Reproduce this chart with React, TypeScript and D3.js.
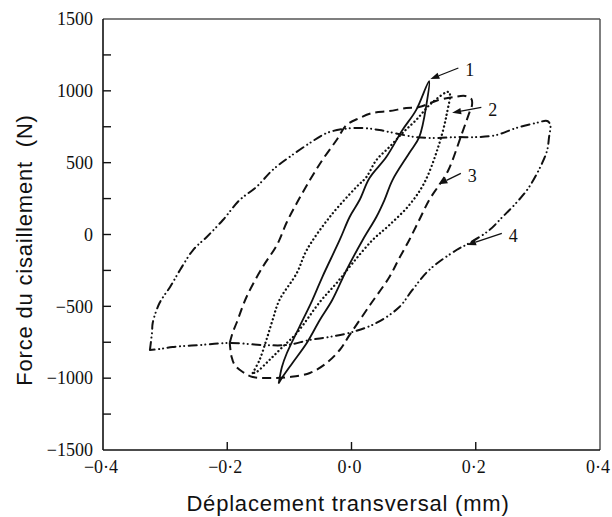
import React from 'react';
import * as d3 from 'd3';

// ---- axis ticks ----
const xTicks = [-0.4, -0.2, 0, 0.2, 0.4];
const xTickLabels = ['\u22120\u00b74', '\u22120\u00b72', '0\u00b70', '0\u00b72', '0\u00b74'];
const xInnerTicks = [-0.2, 0, 0.2];
const yTicks = [-1500, -1000, -500, 0, 500, 1000, 1500];
const yTickLabels = ['\u22121500', '\u22121000', '\u2212500', '0', '500', '1000', '1500'];
const yInnerTicks = [-1250, -1000, -750, -500, -250, 0, 250, 500, 750, 1000, 1250];

// ---- series 1 (solid) ----
const s1X = [-0.117, -0.112, -0.104, -0.084, -0.063, -0.047, -0.019, -0.003, 0.013, 0.029, 0.056, 0.082, 0.104, 0.125,
  0.121, 0.109, 0.093, 0.066, 0.053, 0.040, 0.018, -0.008, -0.031, -0.051, -0.072, -0.095, -0.111, -0.117];
const s1Y = [-1033, -922, -825, -644, -456, -296, -38, 122, 240, 393, 539, 727, 866, 1068,
  915, 678, 567, 379, 240, 122, -38, -247, -456, -595, -755, -894, -992, -1033];

// ---- series 2 (dotted) ----
const s2X = [-0.159, -0.148, -0.137, -0.127, -0.116, -0.088, -0.072, -0.035, 0.008, 0.024, 0.040, 0.061, 0.082, 0.104, 0.129, 0.157,
  0.153, 0.138, 0.117, 0.093, 0.061, 0.034, 0.002, -0.024, -0.051, -0.088, -0.111, -0.132, -0.153, -0.159];
const s2Y = [-964, -873, -734, -595, -456, -268, -108, 122, 331, 400, 518, 609, 706, 797, 915, 992,
  832, 588, 358, 205, 66, -38, -198, -338, -470, -685, -783, -873, -957, -964];

// ---- series 3 (dashed) ----
const s3X = [-0.196, -0.191, -0.185, -0.169, -0.143, -0.120, -0.104, -0.088, -0.067, -0.047, -0.024, -0.008, 0.013, 0.034, 0.061, 0.088, 0.109, 0.140, 0.165, 0.183, 0.193,
  0.194, 0.190, 0.178, 0.156, 0.141, 0.125, 0.109, 0.093, 0.077, 0.061, 0.032, -0.003, -0.019, -0.040, -0.067, -0.100, -0.127, -0.159, -0.175, -0.188, -0.193, -0.196];
const s3Y = [-755, -679, -616, -435, -226, -73, 87, 219, 379, 518, 658, 762, 811, 846, 859, 880, 887, 936, 957, 964, 943,
  901, 852, 706, 449, 344, 240, 101, -38, -164, -296, -477, -699, -804, -894, -964, -992, -999, -992, -957, -908, -852, -755];

// ---- series 4 (dash-dot-dot) ----
const s4X = [-0.3245, -0.321, -0.320, -0.309, -0.292, -0.276, -0.255, -0.233, -0.207, -0.180, -0.153, -0.127, -0.100, -0.067, -0.040, -0.014, 0.018, 0.045, 0.069, 0.103, 0.137, 0.169, 0.201, 0.233, 0.265, 0.297, 0.315,
  0.320, 0.318, 0.315, 0.307, 0.286, 0.265, 0.243, 0.222, 0.190, 0.169, 0.125, 0.098, 0.077, 0.040, 0.002, -0.035, -0.067, -0.104, -0.143, -0.196, -0.244, -0.288, -0.309, -0.3245];
const s4Y = [-804, -678, -616, -477, -365, -247, -108, -17, 101, 240, 331, 449, 539, 637, 706, 734, 741, 727, 706, 678, 672, 678, 678, 692, 741, 776, 790,
  762, 678, 588, 498, 331, 219, 122, 31, -59, -108, -247, -386, -505, -616, -678, -713, -734, -769, -769, -755, -769, -783, -797, -804];

// ---- curve labels & arrows ----
const labelNames = ['1', '2', '3', '4'];
const arrowTipX = [0.127, 0.162, 0.140, 0.186];
const arrowTipY = [1082, 847, 349, -73];
const arrowTailX = [0.172, 0.209, 0.176, 0.242];
const arrowTailY = [1159, 885, 426, 8];

const W = 612;
const H = 517;

export default function App() {
  const x = d3.scaleLinear().domain([-0.4, 0.4]).range([103, 600]);
  const y = d3.scaleLinear().domain([-1500, 1500]).range([450, 19]);

  const line = d3
    .line<[number, number]>()
    .x((d) => x(d[0]))
    .y((d) => y(d[1]))
    .curve(d3.curveCatmullRom.alpha(0.5));

  const series = [
    { xs: s1X, ys: s1Y, dash: 'none', cap: 'round' as const, w: 1.8 },
    { xs: s2X, ys: s2Y, dash: '0.1,4', cap: 'round' as const, w: 2.3 },
    { xs: s3X, ys: s3Y, dash: '9,5', cap: 'butt' as const, w: 2 },
    { xs: s4X, ys: s4Y, dash: '8,4.5,0.1,4,0.1,4.5', cap: 'round' as const, w: 2 },
  ];

  const serif = '"Liberation Serif", "Times New Roman", serif';
  const sans = '"Liberation Sans", Arial, sans-serif';
  const x0 = x(-0.4), x1 = x(0.4), y0 = y(-1500), y1 = y(1500);

  return (
    <svg width={W} height={H} style={{ position: 'absolute', left: 0, top: 0, background: '#fff' }}>
      <rect x={0} y={0} width={W} height={H} fill="#fff" />
      {/* frame */}
      <line x1={x0} y1={y1} x2={x1} y2={y1} stroke="#555" strokeWidth={1.5} />
      <line x1={x1} y1={y1} x2={x1} y2={y0} stroke="#555" strokeWidth={1.5} />
      <line x1={x0} y1={y1} x2={x0} y2={y0} stroke="#111" strokeWidth={1.6} />
      <line x1={x0} y1={y0} x2={x1} y2={y0} stroke="#111" strokeWidth={1.6} />

      {/* y ticks (inward) */}
      {yInnerTicks.map((t) => (
        <line key={'yt' + t} x1={x0} x2={x0 + 8} y1={y(t)} y2={y(t)} stroke="#111" strokeWidth={1.4} />
      ))}
      {yTicks.map((t, i) => (
        <text key={'yl' + t} x={x0 - 10} y={y(t)} dy="0.35em" textAnchor="end" fontFamily={serif} fontSize={18} fill="#111">
          {yTickLabels[i]}
        </text>
      ))}

      {/* x ticks (inward) */}
      {xInnerTicks.map((t) => (
        <line key={'xt' + t} x1={x(t)} x2={x(t)} y1={y0} y2={y0 - 8} stroke="#111" strokeWidth={1.4} />
      ))}
      {xTicks.map((t, i) => (
        <text key={'xl' + t} x={x(t) - 2} y={473} textAnchor="middle" fontFamily={serif} fontSize={18} fill="#111">
          {xTickLabels[i]}
        </text>
      ))}

      {/* series */}
      {series.map((s, i) => {
        const pts: [number, number][] = s.xs.map((v, k) => [v, s.ys[k]]);
        return (
          <path
            key={'s' + i}
            d={line(pts) || ''}
            fill="none"
            stroke="#111"
            strokeWidth={s.w}
            strokeDasharray={s.dash}
            strokeLinecap={s.cap}
            strokeLinejoin="round"
          />
        );
      })}

      {/* arrows and labels */}
      {labelNames.map((name, i) => {
        const tx = x(arrowTipX[i]);
        const ty = y(arrowTipY[i]);
        const sx = x(arrowTailX[i]);
        const sy = y(arrowTailY[i]);
        const ang = Math.atan2(ty - sy, tx - sx);
        const L = 9;
        const Wd = 3.2;
        const bx = tx - L * Math.cos(ang);
        const by = ty - L * Math.sin(ang);
        const p1 = [bx + Wd * Math.sin(ang), by - Wd * Math.cos(ang)];
        const p2 = [bx - Wd * Math.sin(ang), by + Wd * Math.cos(ang)];
        return (
          <g key={'a' + name}>
            <line x1={sx} y1={sy} x2={bx} y2={by} stroke="#111" strokeWidth={1.3} />
            <polygon points={`${tx},${ty} ${p1[0]},${p1[1]} ${p2[0]},${p2[1]}`} fill="#111" />
            <text x={sx + 7} y={sy + 2} dy="0.35em" fontFamily={serif} fontSize={18} fill="#111">
              {name}
            </text>
          </g>
        );
      })}

      {/* axis titles */}
      <text x={348} y={511} textAnchor="middle" fontFamily={sans} fontSize={22} letterSpacing={0.8} fill="#111">
        Déplacement transversal (mm)
      </text>
      <text
        transform={`translate(32,250) rotate(-90)`}
        textAnchor="middle"
        fontFamily={sans}
        fontSize={22}
        letterSpacing={0.8}
        fill="#111"
        style={{ whiteSpace: 'pre' }}
      >
        {'Force du cisaillement  (N)'}
      </text>
    </svg>
  );
}
